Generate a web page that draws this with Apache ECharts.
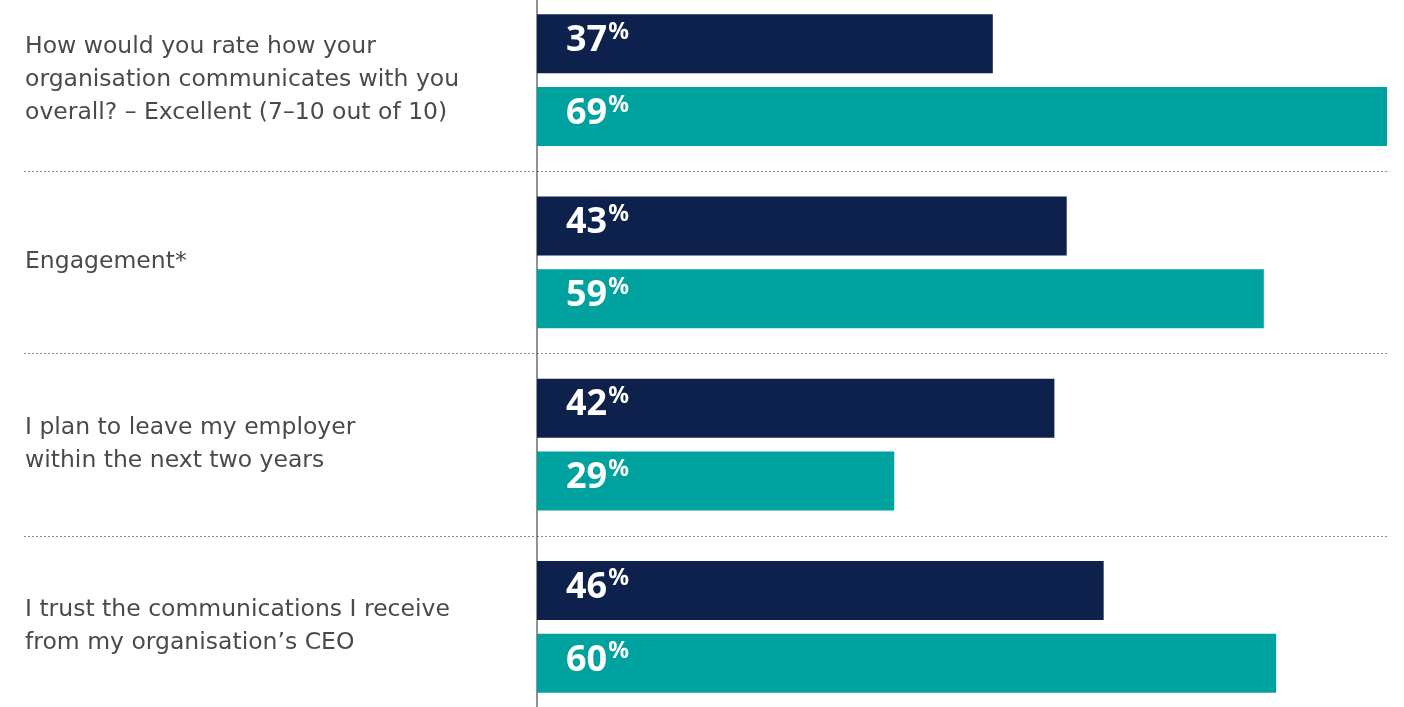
<!DOCTYPE html>
<html>
<head>
<meta charset="utf-8">
<script src="https://cdn.jsdelivr.net/npm/echarts@6/dist/echarts.min.js"></script>
<style>
  html, body { margin: 0; padding: 0; background: #ffffff; }
  #chart { width: 1404px; height: 707px; }
</style>
</head>
<body>
<div id="chart"></div>
<script>
// Survey questions (one row each)
const categories = [
  'How would you rate how your\norganisation communicates with you\noverall? \u2013 Excellent (7\u201310 out of 10)',
  'Engagement*',
  'I plan to leave my employer\nwithin the next two years',
  'I trust the communications I receive\nfrom my organisation\u2019s CEO'
];
// Percentages per row
const seriesA = [37, 43, 42, 46];
const seriesB = [69, 59, 29, 60];

const NAVY = '#0e214c';
const TEAL = '#00a29f';
const FONT = '"Noto Sans", "Open Sans", sans-serif';
const TEXT_FONT = '"DejaVu Sans", sans-serif';

const chart = echarts.init(document.getElementById('chart'), null, { renderer: 'canvas' });

const gridTop = -11, gridHeight = 729;

function valueLabel() {
  return {
    show: true,
    position: 'insideLeft',
    distance: 29,
    offset: [0, -3],
    formatter: p => `{v|${p.value}}{p|%}`,
    rich: {
      v: { fontFamily: FONT, fontSize: 36, fontWeight: 'bold', color: '#ffffff', lineHeight: 40 },
      p: { fontFamily: FONT, fontSize: 23, fontWeight: 'bold', color: '#ffffff', verticalAlign: 'top', lineHeight: 35, padding: [0, 0, 0, 1] }
    }
  };
}

chart.setOption({
  animation: false,
  grid: [
    { left: 537, right: 17, top: gridTop, height: gridHeight, containLabel: false, outerBoundsMode: 'none' },
    { left: 24, width: 513, top: gridTop, height: gridHeight, containLabel: false, outerBoundsMode: 'none' }
  ],
  xAxis: [
    { type: 'value', gridIndex: 0, min: 0, max: 69, show: false },
    { type: 'value', gridIndex: 1, min: 0, max: 1, show: false }
  ],
  yAxis: [
    {
      type: 'category', gridIndex: 0, data: categories, inverse: true,
      axisTick: { show: false },
      axisLine: { show: true, lineStyle: { color: '#6e6e6e', width: 1.5 } },
      splitLine: { show: true, lineStyle: { color: '#8a8a8a', type: [2, 2], width: 1 } },
      axisLabel: {
        align: 'left', margin: 512, fontFamily: TEXT_FONT, fontSize: 23.5, lineHeight: 33,
        color: '#4a4a4a', padding: [4, 0, 0, 0]
      }
    },
    {
      type: 'category', gridIndex: 1, data: categories, inverse: true,
      axisTick: { show: false }, axisLine: { show: false }, axisLabel: { show: false },
      splitLine: { show: true, lineStyle: { color: '#8a8a8a', type: [2, 2], width: 1 } }
    }
  ],
  series: [
    {
      type: 'bar', xAxisIndex: 0, yAxisIndex: 0, data: seriesA,
      barWidth: 59, barGap: '23.7%',
      itemStyle: { color: NAVY },
      label: valueLabel()
    },
    {
      type: 'bar', xAxisIndex: 0, yAxisIndex: 0, data: seriesB,
      barWidth: 59, barGap: '23.7%',
      itemStyle: { color: TEAL },
      label: valueLabel()
    }
  ]
});
</script>
</body>
</html>
